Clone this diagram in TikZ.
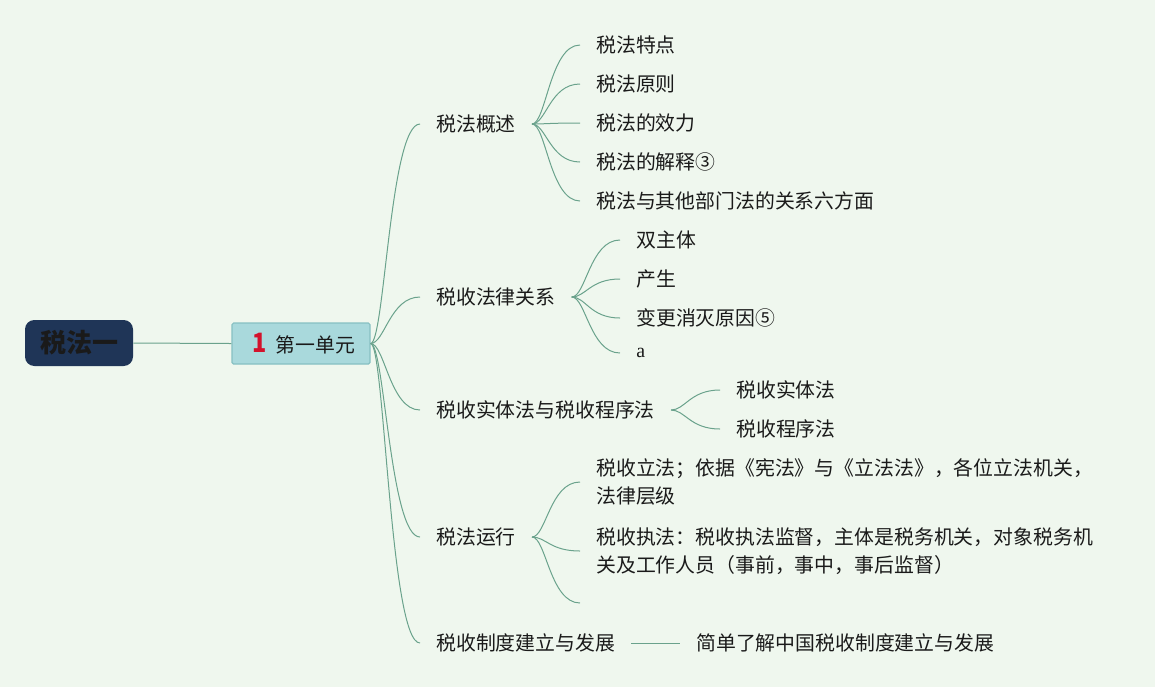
\documentclass[tikz,border=0pt]{standalone}
\usepackage{fontspec}
\setmainfont{Noto Sans CJK SC}
\newfontfamily\latinserif{Liberation Serif}
\definecolor{bgc}{HTML}{EFF7EE}
\definecolor{linkc}{HTML}{6AA28C}
\definecolor{rootc}{HTML}{1F3557}
\definecolor{boxc}{HTML}{A9D9DC}
\definecolor{boxb}{HTML}{86C0C2}
\definecolor{numred}{HTML}{D3122C}
\definecolor{txt}{HTML}{1A1A1A}
\begin{document}
\begin{tikzpicture}[x=0.75pt,y=-0.75pt,
  link/.style={draw=linkc, line width=0.75pt},
  curve/.style={link, to path={.. controls +(14,0) and +(-30,0) .. (\tikztotarget)}},
  topic/.style={anchor=west, inner xsep=12pt, inner ysep=1pt, text=txt, align=left,
    font=\fontsize{14.9pt}{21pt}\selectfont},
]
\fill[bgc] (0,0) rectangle (1155,687);
\useasboundingbox (0,0) rectangle (1155,687);

% root and unit
\node[fill=rootc, rounded corners=7pt, minimum width=81pt, minimum height=34.5pt,
  inner sep=0pt, text=txt, font=\fontsize{19.5pt}{22pt}\selectfont\bfseries] (root) at (79,343) {税法一};
\node[fill=boxc, draw=boxb, line width=0.9pt, rounded corners=1.2pt, minimum width=103.5pt,
  minimum height=30.75pt, inner sep=0pt, text=txt, font=\fontsize{14.9pt}{18pt}\selectfont] (u1) at (301,343.5)
  {\hspace*{4.5pt}{\color{numred}\fontsize{18.5pt}{18pt}\selectfont\bfseries\raisebox{-0.5pt}{\scalebox{0.95}[1.08]{1}}}\hspace{6.5pt}第一单元};
\draw[link] (root.east) -- (u1.west);

% level 2
\node[topic] (a) at (420,124) {税法概述};
\node[topic] (b) at (420,297) {税收法律关系};
\node[topic] (c) at (420,410) {税收实体法与税收程序法};
\node[topic] (d) at (420,537) {税法运行};
\node[topic] (e) at (420,643) {税收制度建立与发展};
\foreach \n in {a,b,c,d,e} \draw[curve] (u1.east) to (\n.west);

% children of a
\node[topic] (a1) at (580,45) {税法特点};
\node[topic] (a2) at (580,84) {税法原则};
\node[topic] (a3) at (580,123) {税法的效力};
\node[topic] (a4) at (580,162) {税法的解释③};
\node[topic] (a5) at (580,201) {税法与其他部门法的关系六方面};
\foreach \n in {a1,a2,a3,a4,a5} \draw[curve] (a.east) to (\n.west);

% children of b
\node[topic] (b1) at (620,240) {双主体};
\node[topic] (b2) at (620,279) {产生};
\node[topic] (b3) at (620,318) {变更消灭原因⑤};
\node[topic, font=\fontsize{14.9pt}{21pt}\latinserif] (b4) at (620,353) {a};
\foreach \n in {b1,b2,b3,b4} \draw[curve] (b.east) to (\n.west);

% children of c
\node[topic] (c1) at (720,390) {税收实体法};
\node[topic] (c2) at (720,429) {税收程序法};
\foreach \n in {c1,c2} \draw[curve] (c.east) to (\n.west);

% children of d
\node[topic] (d1) at (580,482) {税收立法；依据《宪法》与《立法法》，各位立法机关，\\法律层级};
\node[topic] (d2) at (580,551) {税收执法：税收执法监督，主体是税务机关，对象税务机\\关及工作人员（事前，事中，事后监督）};
\node[topic, minimum height=18pt] (d3) at (580,603) {};
\foreach \n in {d1,d2,d3} \draw[curve] (d.east) to (\n.west);

% child of e
\node[topic] (e1) at (680,643) {简单了解中国税收制度建立与发展};
\draw[link] (e.east) -- (e1.west);
\end{tikzpicture}
\end{document}
